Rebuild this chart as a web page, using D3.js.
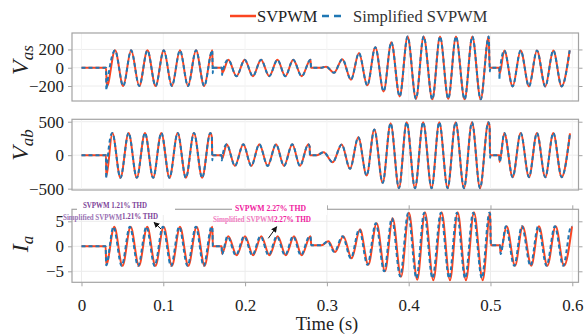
<!DOCTYPE html>
<html>
<head>
<meta charset="utf-8">
<script src="https://cdn.jsdelivr.net/npm/d3@7"></script>
<style>
  body { margin: 0; background: #fff; }
  svg { display: block; }
  text { font-family: "Liberation Serif", "Times New Roman", serif; }
</style>
</head>
<body>
<svg id="chart" width="584" height="335"></svg>
<script>
// time ticks shared by all panels
const timeTicks = [0, 0.1, 0.2, 0.3, 0.4, 0.5, 0.6];

// V_as : [time, value] at each turning point
const vasSvpwm = [[0,0],[0.0300,0],[0.0310,-205],[0.0410,190],[0.0510,-200],[0.0607,190],[0.0706,-200],[0.0806,190],[0.0906,-200],[0.1006,190],[0.1105,-200],[0.1204,190],[0.1302,-200],[0.1400,190],[0.1500,-200],[0.1599,190],[0.1603,0],[0.1716,0],[0.1722,-55],[0.1795,87],[0.1895,-93],[0.1995,87],[0.2095,-93],[0.2195,87],[0.2295,-93],[0.2395,87],[0.2492,-93],[0.2588,87],[0.2692,-93],[0.2800,87],[0.2806,0],[0.2936,0],[0.2990,12],[0.3087,-55],[0.3189,94],[0.3295,-131],[0.3392,160],[0.3494,-193],[0.3592,225],[0.3694,-259],[0.3788,280],[0.3890,-314],[0.3987,342],[0.4089,-340],[0.4183,342],[0.4289,-346],[0.4383,342],[0.4484,-340],[0.4578,342],[0.4684,-346],[0.4778,342],[0.4880,-346],[0.4978,342],[0.4990,0],[0.5108,0],[0.5112,-65],[0.5169,189],[0.5271,-204],[0.5369,189],[0.5471,-204],[0.5568,189],[0.5670,-204],[0.5768,189],[0.5870,-204],[0.5968,189]];
// switching spikes only seen on the simplified trace
const vasSpikes = [[0.0304,-245],[0.1605,-60],[0.1609,0],[0.1719,-80],[0.4993,-40],[0.4997,0],[0.5110,-130]];
const vasTicks = [-200, 0, 200];

// V_ab
const vabSvpwm = [[0,0],[0.0300,0],[0.0303,-320],[0.0377,333],[0.0476,-338],[0.0576,333],[0.0676,-338],[0.0776,333],[0.0876,-338],[0.0976,333],[0.1076,-338],[0.1176,333],[0.1276,-338],[0.1375,333],[0.1475,-338],[0.1575,333],[0.1594,270],[0.1598,0],[0.1714,0],[0.1718,-56],[0.1775,162],[0.1876,-160],[0.1978,162],[0.2076,-160],[0.2174,162],[0.2276,-160],[0.2378,162],[0.2476,-160],[0.2577,162],[0.2671,-160],[0.2773,162],[0.2789,130],[0.2793,0],[0.2880,0],[0.2960,45],[0.3071,-105],[0.3181,160],[0.3283,-204],[0.3384,269],[0.3486,-303],[0.3580,383],[0.3682,-413],[0.3779,478],[0.3881,-493],[0.3975,493],[0.4077,-493],[0.4177,493],[0.4280,-493],[0.4374,493],[0.4476,-493],[0.4574,493],[0.4676,-493],[0.4774,493],[0.4872,-493],[0.4974,493],[0.4990,420],[0.4994,0],[0.5108,0],[0.5112,-100],[0.5169,333],[0.5271,-328],[0.5369,333],[0.5471,-328],[0.5568,333],[0.5670,-328],[0.5768,333],[0.5870,-328],[0.5972,325]];
const vabSpikes = [[0.0302,-350],[0.1600,-75],[0.1603,0],[0.1716,-80],[0.4996,-40],[0.5000,0]];
const vabTicks = [-500, 0, 500];

// I_a (the simplified trace leads a little)
const iaSvpwm = [[0,0],[0.0295,0],[0.0303,-3.7],[0.0401,3.9],[0.0501,-3.9],[0.0601,3.9],[0.0702,-3.9],[0.0804,3.9],[0.0904,-3.9],[0.1005,3.9],[0.1105,-3.9],[0.1204,3.9],[0.1306,-3.9],[0.1408,3.9],[0.1504,-3.9],[0.1600,3.9],[0.1606,0],[0.1714,0],[0.1719,-1.5],[0.1795,2.0],[0.1897,-1.8],[0.1999,2.0],[0.2098,-1.8],[0.2198,2.0],[0.2298,-1.8],[0.2398,2.0],[0.2498,-1.8],[0.2598,2.0],[0.2692,-1.8],[0.2798,2.0],[0.2810,0.2],[0.2936,0.2],[0.3018,1.0],[0.3100,-1.15],[0.3201,2.0],[0.3303,-2.4],[0.3405,3.4],[0.3506,-3.7],[0.3608,4.6],[0.3710,-5.0],[0.3804,5.6],[0.3906,-6.1],[0.4003,6.7],[0.4105,-6.7],[0.4199,6.8],[0.4301,-6.8],[0.4403,6.8],[0.4505,-6.8],[0.4599,6.8],[0.4700,-6.8],[0.4798,6.8],[0.4905,-6.8],[0.4996,6.8],[0.5004,0.2],[0.5116,0.2],[0.5121,-1.2],[0.5198,4.0],[0.5300,-3.9],[0.5393,4.0],[0.5499,-3.9],[0.5593,4.0],[0.5695,-3.9],[0.5797,4.0],[0.5899,-3.9],[0.5997,4.0]];
const iaSimplified = [[0,0],[0.0295,0],[0.0302,-3.8],[0.0391,3.9],[0.0491,-3.9],[0.0591,3.9],[0.0692,-3.9],[0.0794,3.9],[0.0894,-3.9],[0.0995,3.9],[0.1095,-3.9],[0.1194,3.9],[0.1296,-3.9],[0.1398,3.9],[0.1494,-3.9],[0.1590,3.9],[0.1600,3.7],[0.1606,0],[0.1714,0],[0.1716,-1.6],[0.1785,2.0],[0.1887,-1.8],[0.1989,2.0],[0.2088,-1.8],[0.2188,2.0],[0.2288,-1.8],[0.2388,2.0],[0.2488,-1.8],[0.2588,2.0],[0.2682,-1.8],[0.2788,2.0],[0.2800,1.9],[0.2810,0.2],[0.2936,0.2],[0.3008,1.0],[0.3090,-1.15],[0.3191,2.0],[0.3293,-2.4],[0.3395,3.4],[0.3496,-3.7],[0.3598,4.6],[0.3700,-5.0],[0.3794,5.6],[0.3896,-6.0],[0.3993,6.6],[0.4095,-6.4],[0.4189,6.7],[0.4291,-6.4],[0.4393,6.7],[0.4495,-6.4],[0.4589,6.7],[0.4690,-6.4],[0.4788,6.7],[0.4895,-6.4],[0.4986,6.7],[0.4996,6.5],[0.5004,0.2],[0.5116,0.2],[0.5124,-1.55],[0.5188,4.0],[0.5290,-3.9],[0.5383,4.0],[0.5489,-3.9],[0.5583,4.0],[0.5685,-3.9],[0.5787,4.0],[0.5889,-3.9],[0.5987,4.0],[0.5997,3.95]];
const iaTicks = [-5, 0, 5];

const RED = '#fb4521', BLUE = '#1f77b4', FRAME = '#a3a3a3', GRID = '#ececec';
const SERIF = '"Liberation Serif", "Times New Roman", serif';
const left = 72, right = 578.5;

const svg = d3.select('#chart');

const x = d3.scaleLinear().domain([-0.0116, 0.6076]).range([left, right]);

const withSpikes = (base, spikes) => base.concat(spikes).sort((a, b) => a[0] - b[0]);

const panels = [
    { top: 33, bottom: 101, domain: [-364, 380], red: vasSvpwm, blue: withSpikes(vasSvpwm, vasSpikes), ticks: vasTicks, label: 'V', sub: 'as', ly: 60 },
    { top: 119.3, bottom: 190, domain: [-520, 536], red: vabSvpwm, blue: withSpikes(vabSvpwm, vabSpikes), ticks: vabTicks, label: 'V', sub: 'ab', ly: 145 },
    { top: 209.3, bottom: 282.3, domain: [-7.2, 7.4], red: iaSvpwm, blue: iaSimplified, ticks: iaTicks, label: 'I', sub: 'a', ly: 244 },
];

panels.forEach((p, i) => {
    const y = d3.scaleLinear().domain(p.domain).range([p.bottom, p.top]);
    const g = svg.append('g');

    g.append('clipPath').attr('id', 'clip' + i)
        .append('rect').attr('x', left).attr('y', p.top).attr('width', right - left).attr('height', p.bottom - p.top);

    // grid
    g.selectAll('.hgrid').data(p.ticks).enter().append('line')
        .attr('x1', left).attr('x2', right)
        .attr('y1', d => y(d)).attr('y2', d => y(d))
        .attr('stroke', GRID).attr('stroke-width', 1);
    g.selectAll('.vgrid').data(timeTicks).enter().append('line')
        .attr('x1', d => x(d)).attr('x2', d => x(d))
        .attr('y1', p.top).attr('y2', p.bottom)
        .attr('stroke', i === 2 ? GRID : '#f4f4f4').attr('stroke-width', 1);

    // y axes both sides
    const ax = g.append('g').attr('transform', `translate(${left},0)`)
        .call(d3.axisLeft(y).tickValues(p.ticks).tickSize(4).tickPadding(4))
        .attr('font-family', SERIF).attr('font-size', 17);
    ax.select('.domain').remove();
    ax.selectAll('line').attr('stroke', FRAME);
    ax.selectAll('text').attr('fill', '#222');

    const axr = g.append('g').attr('transform', `translate(${right},0)`)
        .call(d3.axisRight(y).tickValues(p.ticks).tickSize(4).tickFormat(''));
    axr.select('.domain').remove();
    axr.selectAll('line').attr('stroke', FRAME);

    // traces
    const line = d3.line().x(d => x(d[0])).y(d => y(d[1])).curve(d3.curveMonotoneX);
    const traces = g.append('g').attr('clip-path', `url(#clip${i})`);
    traces.append('path').datum(p.red).attr('d', line)
        .attr('fill', 'none').attr('stroke', RED).attr('stroke-width', 2);
    traces.append('path').datum(p.blue).attr('d', line)
        .attr('fill', 'none').attr('stroke', BLUE).attr('stroke-width', 2)
        .attr('stroke-dasharray', '4,3');

    // frame
    g.append('rect').attr('x', left).attr('y', p.top)
        .attr('width', right - left).attr('height', p.bottom - p.top)
        .attr('fill', 'none').attr('stroke', FRAME).attr('stroke-width', 1.2);

    // y title
    const t = g.append('text')
        .attr('transform', `translate(28,${p.ly}) rotate(-90)`)
        .attr('text-anchor', 'middle')
        .attr('font-style', 'italic').attr('fill', '#222');
    t.append('tspan').attr('font-size', 24).text(p.label);
    t.append('tspan').attr('font-size', 17).attr('dy', '0.3em').text(p.sub);

    if (i === 2) {
        const axb = g.append('g').attr('transform', `translate(0,${p.bottom})`)
            .call(d3.axisBottom(x).tickValues(timeTicks).tickSize(4).tickPadding(13)
                .tickFormat(d => d === 0 ? '0' : d3.format('.1f')(d)))
            .attr('font-family', SERIF).attr('font-size', 17);
        axb.select('.domain').remove();
        axb.selectAll('line').attr('stroke', FRAME);
        axb.selectAll('text').attr('fill', '#222');
        const axt = g.append('g').attr('transform', `translate(0,${p.top})`)
            .call(d3.axisTop(x).tickValues(timeTicks).tickSize(4).tickFormat(''));
        axt.select('.domain').remove();
        axt.selectAll('line').attr('stroke', FRAME);
    }
});

// x title
svg.append('text').attr('x', 327).attr('y', 329.5).attr('text-anchor', 'middle')
    .attr('font-size', 18.5).attr('fill', '#222').text('Time (s)');

// legend
const legend = svg.append('g');
legend.append('line').attr('x1', 230).attr('x2', 256).attr('y1', 16).attr('y2', 16)
    .attr('stroke', RED).attr('stroke-width', 2.5);
legend.append('text').attr('x', 257).attr('y', 22).attr('font-size', 16.5).attr('fill', '#222').text('SVPWM');
legend.append('line').attr('x1', 322).attr('x2', 344).attr('y1', 16).attr('y2', 16)
    .attr('stroke', BLUE).attr('stroke-width', 2.5).attr('stroke-dasharray', '7,5');
legend.append('text').attr('x', 353).attr('y', 22).attr('font-size', 16.5).attr('fill', '#333').text('Simplified SVPWM');

// THD annotations
const notes = svg.append('g');
notes.append('rect').attr('x', 77).attr('y', 203).attr('width', 98).attr('height', 12).attr('fill', '#fff');
notes.append('rect').attr('x', 232).attr('y', 203).attr('width', 95).attr('height', 12).attr('fill', '#fff');

const noteText = (xx, yy, w) => notes.append('text')
    .attr('x', xx).attr('y', yy).attr('font-size', 7.5).attr('font-weight', 'bold')
    .attr('textLength', w).attr('lengthAdjust', 'spacingAndGlyphs');

noteText(83, 208, 64).attr('fill', '#7d3f98').text('SVPWM 1.21% THD');
const n2 = noteText(63, 220, 95);
n2.append('tspan').attr('fill', '#9a72b4').text('Simplified SVPWM');
n2.append('tspan').attr('fill', '#7d3f98').attr('dy', -1.5).text('1.21% THD');

noteText(235, 211, 71).attr('fill', '#f0209e').text('SVPWM 2.27% THD');
const n4 = noteText(213, 221.5, 98);
n4.append('tspan').attr('fill', '#f07cc0').text('Simplified SVPWM');
n4.append('tspan').attr('fill', '#f0209e').text('2.27% THD');

// arrows
svg.append('defs').append('marker').attr('id', 'ah')
    .attr('viewBox', '0 0 10 10').attr('refX', 9).attr('refY', 5)
    .attr('markerWidth', 6).attr('markerHeight', 6).attr('orient', 'auto')
    .append('path').attr('d', 'M0,0L10,5L0,10z').attr('fill', '#111');
[[161, 229, 154, 222.3], [268.3, 238.3, 276.7, 226.7]].forEach(a => {
    svg.append('line').attr('x1', a[0]).attr('y1', a[1]).attr('x2', a[2]).attr('y2', a[3])
        .attr('stroke', '#111').attr('stroke-width', 1).attr('marker-end', 'url(#ah)');
});
</script>
</body>
</html>
